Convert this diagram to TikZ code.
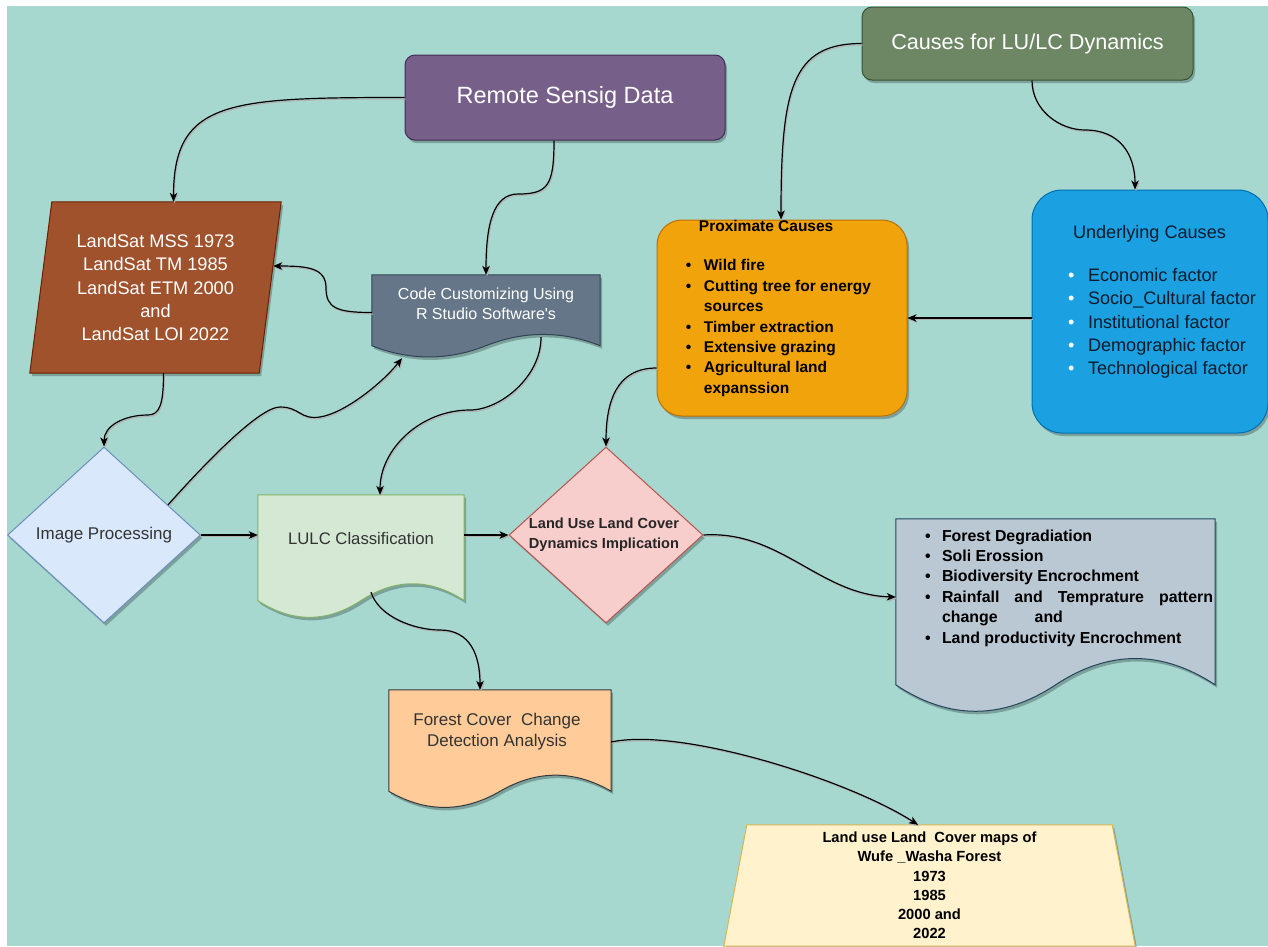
\documentclass[tikz,border=0pt]{standalone}
\usepackage{fontspec}
\setmainfont{Liberation Sans}
\usetikzlibrary{arrows.meta,calc,shapes.geometric,shadows}
\definecolor{bgteal}{HTML}{A6D8D0}
\definecolor{rsfill}{HTML}{76608A}\definecolor{rsline}{HTML}{432D57}
\definecolor{causefill}{HTML}{6D8764}\definecolor{causeline}{HTML}{3A5431}
\definecolor{satfill}{HTML}{A0522D}\definecolor{satline}{HTML}{6D1F00}
\definecolor{codefill}{HTML}{647687}\definecolor{codeline}{HTML}{314354}
\definecolor{proxfill}{HTML}{F0A30A}\definecolor{proxline}{HTML}{BD7000}
\definecolor{undfill}{HTML}{1BA1E2}\definecolor{undline}{HTML}{006EAF}
\definecolor{undink}{HTML}{0D1B2A}
\definecolor{ipfill}{HTML}{DAE8FC}\definecolor{ipline}{HTML}{6C8EBF}
\definecolor{lulcfill}{HTML}{D5E8D4}\definecolor{lulcline}{HTML}{82B366}
\definecolor{ludifill}{HTML}{F8CECC}\definecolor{ludiline}{HTML}{B85450}
\definecolor{efffill}{HTML}{BAC8D3}\definecolor{effline}{HTML}{23445D}
\definecolor{forfill}{HTML}{FFCC99}\definecolor{forline}{HTML}{36393D}
\definecolor{mapfill}{HTML}{FFF2CC}\definecolor{mapline}{HTML}{D6B656}
\definecolor{inkgray}{HTML}{333333}

\newcommand{\bul}[1]{\makebox[#1][l]{\textbullet}}
% document outline with wavy bottom, drawn round a node
\newcommand{\docshape}[2]{%
  \path[#2] let \p1=(#1.north west), \p2=(#1.south east) in
    (\x1,\y1) -- (\x2,\y1) -- (\x2,{\y2+0.15*(\y1-\y2)})
    .. controls ({\x2-(\x2-\x1)/6},{\y2+0.33*(\y1-\y2)}) and ({\x1+2*(\x2-\x1)/3},{\y2+0.33*(\y1-\y2)}) .. ({(\x1+\x2)/2},{\y2+0.15*(\y1-\y2)})
    .. controls ({\x1+(\x2-\x1)/3},{\y2-0.03*(\y1-\y2)}) and ({\x1+(\x2-\x1)/6},{\y2-0.03*(\y1-\y2)}) .. (\x1,{\y2+0.15*(\y1-\y2)}) -- cycle;}
% slanted box (parallelogram)
\newcommand{\leanshape}[3]{%
  \path[#3] ([xshift=#2]#1.north west) -- ([xshift=#2]#1.north east) -- ([xshift=-#2]#1.south east) -- ([xshift=-#2]#1.south west) -- cycle;}
% trapezoid, wider at the bottom
\newcommand{\trapshape}[3]{%
  \path[#3] ([xshift=#2]#1.north west) -- ([xshift=-#2]#1.north east) -- ([xshift=#2]#1.south east) -- ([xshift=-#2]#1.south west) -- cycle;}

\pgfdeclarelayer{canvas}
\pgfdeclarelayer{shapes}
\pgfsetlayers{canvas,shapes,main}

\begin{document}
\begin{tikzpicture}[x=1pt, y=-1pt,
    dropsh/.style={drop shadow={shadow xshift=2pt, shadow yshift=-3pt, opacity=.25, fill=black}},
    roundbox/.style={rectangle, rounded corners=10pt, draw, line width=1pt, dropsh, inner sep=0pt},
    slab/.style={rectangle, draw=none, inner sep=0pt},
    rhomb/.style={diamond, draw, line width=1pt, dropsh, inner sep=0pt, minimum width=194, minimum height=176},
    txt/.style={inner sep=0pt, align=center},
    link/.style={line width=1.2pt, -{Stealth[length=9pt,width=7.5pt,inset=2.5pt]},
        preaction={draw=black!30, line width=1pt, transform canvas={xshift=1pt,yshift=-1.5pt}}}]
    \useasboundingbox (0,0) rectangle (1268,946);
    \begin{pgfonlayer}{canvas}
        \fill[white] (0,0) rectangle (1268,946);
        \fill[bgteal] (7,6) rectangle (1268,946);
    \end{pgfonlayer}

    % Data sources
    \node[roundbox, fill=rsfill, draw=rsline, minimum width=320, minimum height=85, text=white,
        font=\fontsize{23.5}{28}\selectfont] (rs) at (565,97.5) {Remote Sensig Data};
    \node[slab, minimum width=229, minimum height=171, text=white, align=center,
        font=\fontsize{18.2}{23.25}\selectfont] (lsat) at (155.5,287.5)
        {LandSat MSS 1973\\LandSat TM 1985\\LandSat ETM 2000\\and\\LandSat LOI 2022};
    \node[slab, minimum width=228, minimum height=83,
        label={[txt, text=white, yshift=12.5pt, font=\fontsize{16}{20}\selectfont]center:{Code Customizing Using\\R Studio Software\textquotesingle s}}]
        (code) at (486,316.5) {};

    % Causes
    \node[roundbox, fill=causefill, draw=causeline, minimum width=331, minimum height=73, text=white,
        font=\fontsize{21.6}{26}\selectfont] (causes) at (1027.5,43.5) {Causes for LU/LC Dynamics};
    \node[roundbox, rounded corners=25pt, fill=proxfill, draw=proxline, minimum width=250, minimum height=196,
        label={[txt, align=left, xshift=-3.5pt, yshift=9.5pt, font=\bfseries\fontsize{15.5}{20.4}\selectfont]center:{%
            \hspace*{13pt}Proximate Causes\\[18.6pt]
            \bul{18pt}Wild fire\\
            \bul{18pt}Cutting tree for energy\\
            \hspace*{18pt}sources\\
            \bul{18pt}Timber extraction\\
            \bul{18pt}Extensive grazing\\
            \bul{18pt}Agricultural land\\
            \hspace*{18pt}expanssion}}]
        (prox) at (782,318) {};
    \node[roundbox, rounded corners=30pt, fill=undfill, draw=undline, minimum width=236, minimum height=243,
        label={[txt, align=left, text=undink, xshift=12pt, yshift=9.5pt, font=\fontsize{18.1}{23.4}\selectfont]center:{%
            \hspace*{5pt}Underlying Causes\\[19.5pt]
            {\color{white}\bul{20pt}}Economic factor\\
            {\color{white}\bul{20pt}}Socio\_Cultural factor\\
            {\color{white}\bul{20pt}}Institutional factor\\
            {\color{white}\bul{20pt}}Demographic factor\\
            {\color{white}\bul{20pt}}Technological factor}}]
        (und) at (1150,311.5) {};

    % Processing chain
    \node[rhomb, fill=ipfill, draw=ipline, minimum width=193,
        label={[txt, text=inkgray, font=\fontsize{17}{21}\selectfont]center:{Image Processing}}] (ip) at (104,535) {};
    \node[slab, minimum width=206, minimum height=124,
        label={[txt, text=inkgray, yshift=18.6pt, font=\fontsize{16.7}{21}\selectfont]center:{LULC Classification}}]
        (lulc) at (361,557) {};
    \node[rhomb, fill=ludifill, draw=ludiline,
        label={[txt, text=black!85, xshift=-2pt, font=\bfseries\fontsize{14.6}{20}\selectfont]center:{Land Use Land Cover\\Dynamics Implication}}]
        (ludi) at (606,535) {};
    \node[slab, minimum width=319, minimum height=195,
        label={[txt, align=left, xshift=13.5pt, yshift=28.5pt, font=\bfseries\fontsize{15.9}{20.4}\selectfont]center:{%
            \bul{17pt}Forest Degradiation\\
            \bul{17pt}Soli Erossion\\
            \bul{17pt}Biodiversity Encrochment\\
            \bul{17pt}\makebox[271pt][s]{Rainfall and Temprature pattern}\\
            \hspace*{17pt}change\hspace{37pt}and\\
            \bul{17pt}Land productivity Encrochment}}]
        (eff) at (1055.5,616.5) {};
    \node[slab, minimum width=222, minimum height=119,
        label={[txt, text=inkgray, xshift=-3pt, yshift=17.8pt, font=\fontsize{17}{21.5}\selectfont]center:{Forest Cover~ Change\\Detection Analysis}}]
        (forest) at (500,749.5) {};
    \node[slab, minimum width=388, minimum height=121, align=center,
        font=\bfseries\fontsize{14.7}{19.2}\selectfont] (maps) at (929.5,885.5)
        {Land use Land~ Cover maps of\\Wufe \_Washa Forest\\1973\\1985\\2000 and\\2022};

    % Outlines that are not plain node shapes
    \begin{pgfonlayer}{shapes}
        \leanshape{lsat}{11pt}{fill=satfill, draw=satline, line width=1pt, dropsh}
        \docshape{code}{fill=codefill, draw=codeline, line width=1pt, dropsh}
        \docshape{lulc}{fill=lulcfill, draw=lulcline, line width=1pt, dropsh}
        \docshape{eff}{fill=efffill, draw=effline, line width=1pt, dropsh}
        \docshape{forest}{fill=forfill, draw=forline, line width=1pt, dropsh}
        \trapshape{maps}{11.5pt}{fill=mapfill, draw=mapline, line width=1pt, dropsh}
    \end{pgfonlayer}

    % Connections
    \draw[link] (rs.west) .. controls +(-175,0) and +(0,-102) .. ([xshift=18pt]lsat.north);
    \draw[link] ([xshift=-11pt]rs.south) .. controls +(0,45) and +(30,0) .. (518,194)
        .. controls +(-25,0) and +(0,-50) .. (code.north);
    \draw[link] ([yshift=4pt]code.west) .. controls +(-35,0) and +(0,20) .. (326,288)
        .. controls +(0,-20) and +(35,0) .. ([xshift=3pt,yshift=21.5pt]lsat.east);
    \draw[link] ([xshift=8pt]lsat.south) .. controls +(0,30) and +(12,0) .. (148,415)
        .. controls +(-25,0) and +(0,-20) .. (ip.north);
    \draw[link] ($(ip.north)!0.66!(ip.east)$) .. controls +(40,-45) and +(-20,0) .. (280,407)
        .. controls +(20,0) and +(-20,3) .. (320,417)
        .. controls +(25,-4) and +(-20,25) .. ([xshift=-84pt]code.south);
    \draw[link] ([xshift=55pt,yshift=21pt]code.south) .. controls +(0,40) and +(30,0) .. (470,410)
        .. controls +(-50,0) and +(0,-45) .. ([xshift=19pt]lulc.north);
    \draw[link] (ip.east) -- (ip.east -| lulc.west);
    \draw[link] (ludi.west -| lulc.east) -- (ludi.west);
    \draw[link] ([xshift=10pt,yshift=27pt]lulc.south) .. controls +(8,25) and +(-25,0) .. (440,630)
        .. controls +(30,0) and +(0,-35) .. ([xshift=-20pt]forest.north);
    \draw[link] (causes.west) .. controls +(-70,0) and +(0,-130) .. ([xshift=-1pt]prox.north);
    \draw[link] ([xshift=4.5pt]causes.south) .. controls +(0,30) and +(-25,0) .. (1085,130)
        .. controls +(35,0) and +(0,-35) .. ([xshift=-15pt]und.north);
    \draw[link] (und.west |- prox.east) -- (prox.east);
    \draw[link] ([yshift=-50pt]prox.west) .. controls +(-40,0) and +(0,-45) .. (ludi.north);
    \draw[link] (ludi.east) .. controls +(77,-5) and +(-76,-2) .. ([yshift=19.5pt]eff.west);
    \draw[link] ([yshift=7.5pt]forest.east) .. controls +(70,-15) and +(-70,-45) .. ([xshift=-11.5pt]maps.north);
\end{tikzpicture}
\end{document}
